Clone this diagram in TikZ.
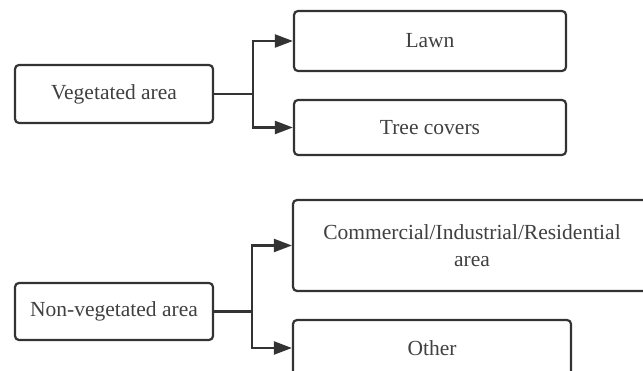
\documentclass[tikz,border=0pt]{standalone}
\usepackage{fontspec}
\setmainfont{Liberation Serif}
\usetikzlibrary{arrows.meta}
\definecolor{linegray}{HTML}{333333}
\definecolor{textgray}{HTML}{404040}

\begin{document}
\begin{tikzpicture}[x=1pt, y=-1pt,
	box/.style={draw=linegray, line width=2.2pt, rounded corners=4pt, text=textgray,
		font=\fontsize{21.5}{27}\selectfont, align=center, inner sep=0pt},
	link/.style={draw=linegray, line width=2.2pt},
	arrow/.style={link, -{Triangle[length=18pt, width=13pt]}},
	]
	\clip (0,0) rectangle (643,371);
	
	% left-hand categories
	\node[box, minimum width=198pt, minimum height=58pt] (veg) at (114,94) {Vegetated area};
	\node[box, minimum width=198pt, minimum height=57pt] (nonveg) at (114,311.5) {Non-vegetated area};
	
	% right-hand classes
	\node[box, minimum width=272pt, minimum height=60pt] (lawn) at (430,41) {Lawn};
	\node[box, minimum width=272pt, minimum height=55pt] (tree) at (430,127.5) {Tree covers};
	\node[box, minimum width=358pt, minimum height=91pt, text width=340pt] (urban) at (472,245.5)
		{Commercial/Industrial/Residential\\area};
	\node[box, minimum width=278pt, minimum height=56pt] (other) at (432,348) {Other};
	
	% branching connectors
	\coordinate (jveg) at (253,94);
	\coordinate (jnon) at (252,311.5);
	\draw[link] (veg.east) -- (jveg);
	\draw[arrow] (jveg) |- (lawn.west);
	\draw[arrow] (jveg) |- (tree.west);
	\draw[link] (nonveg.east) -- (jnon);
	\draw[arrow] (jnon) |- (urban.west);
	\draw[arrow] (jnon) |- (other.west);
\end{tikzpicture}
\end{document}
